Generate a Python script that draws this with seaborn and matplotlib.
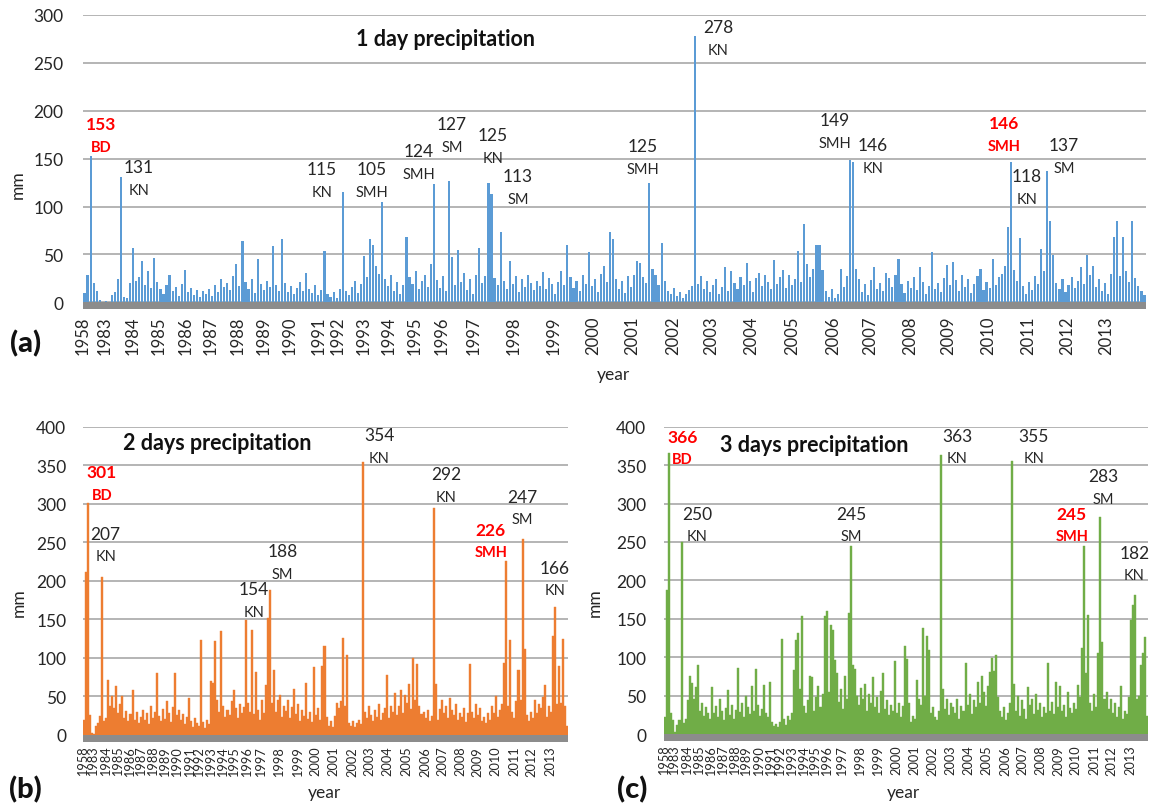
import numpy as np
import pandas as pd
import matplotlib
matplotlib.use("Agg")
import matplotlib.pyplot as plt
import seaborn as sns

# --- values (mm, one bar per entry, left to right) ---
rain_1d = [
    10, 28, 153, 20, 12, 2, 0, 1, 0, 8, 11, 24, 131, 6, 4, 20, 57, 22, 26, 43, 18, 33, 15, 46, 21,
    14, 9, 18, 29, 12, 16, 7, 19, 34, 11, 15, 8, 13, 6, 12, 9, 14, 7, 18, 11, 24, 16, 20, 13, 27,
    40, 17, 64, 21, 14, 24, 10, 45, 19, 13, 22, 16, 59, 18, 12, 66, 20, 11, 17, 9, 15, 21, 12, 31, 14,
    10, 18, 8, 13, 54, 9, 6, 11, 5, 14, 115, 12, 8, 16, 22, 10, 19, 48, 26, 66, 60, 38, 30, 105, 24,
    17, 29, 12, 21, 9, 18, 68, 26, 19, 33, 14, 22, 28, 16, 40, 124, 23, 15, 27, 12, 127, 47, 18, 55, 21,
    31, 13, 24, 9, 29, 57, 20, 27, 125, 113, 25, 18, 73, 22, 14, 43, 19, 27, 11, 24, 16, 29, 20, 13, 22,
    17, 32, 14, 25, 19, 9, 21, 33, 18, 60, 26, 15, 22, 12, 28, 19, 53, 17, 24, 11, 30, 38, 21, 73, 66,
    24, 14, 22, 10, 27, 16, 29, 43, 41, 26, 20, 125, 35, 28, 18, 62, 22, 12, 9, 15, 7, 11, 5, 9, 13,
    17, 278, 19, 27, 14, 22, 11, 18, 24, 9, 16, 37, 12, 33, 20, 14, 26, 18, 41, 22, 11, 25, 31, 17, 28,
    21, 14, 44, 19, 26, 34, 15, 29, 18, 24, 54, 21, 82, 40, 26, 35, 60, 60, 34, 12, 6, 14, 4, 9, 35,
    16, 27, 149, 146, 35, 24, 11, 19, 8, 23, 37, 14, 20, 12, 31, 25, 16, 28, 45, 19, 10, 22, 15, 26, 13,
    37, 21, 9, 17, 52, 14, 20, 11, 25, 39, 18, 42, 23, 12, 29, 16, 24, 10, 19, 27, 35, 13, 21, 15, 45,
    18, 26, 30, 38, 79, 146, 34, 22, 67, 17, 9, 21, 13, 27, 19, 56, 33, 137, 85, 49, 20, 14, 24, 11, 18,
    26, 15, 22, 37, 19, 49, 28, 38, 16, 24, 12, 20, 9, 30, 68, 85, 27, 68, 33, 21, 85, 25, 17, 12, 8,
]

rain_2d = [
    20, 212, 301, 26, 3, 1, 12, 15, 25, 205, 18, 22, 72, 38, 50, 35, 64, 28, 40, 50, 22, 31, 18, 27,
    58, 20, 30, 16, 24, 33, 19, 28, 14, 38, 22, 30, 80, 25, 18, 34, 21, 44, 29, 17, 36, 80, 26, 32,
    19, 27, 14, 24, 48, 18, 10, 22, 15, 12, 123, 17, 9, 20, 14, 70, 67, 122, 45, 30, 135, 38, 24, 33,
    26, 44, 58, 35, 22, 40, 28, 36, 149, 41, 30, 136, 27, 82, 33, 20, 45, 29, 65, 152, 188, 42, 84, 30,
    45, 52, 24, 38, 31, 45, 22, 36, 60, 27, 40, 18, 33, 25, 68, 21, 30, 17, 88, 26, 35, 20, 90, 115,
    24, 12, 18, 10, 25, 41, 35, 44, 126, 38, 104, 16, 12, 18, 10, 15, 20, 14, 354, 30, 22, 37, 26, 18,
    32, 24, 40, 19, 28, 35, 78, 22, 37, 30, 54, 26, 38, 58, 29, 52, 41, 66, 34, 100, 45, 92, 38, 27,
    30, 22, 32, 18, 25, 295, 66, 20, 34, 45, 28, 38, 22, 48, 33, 26, 40, 19, 29, 24, 35, 17, 28, 92,
    30, 22, 40, 26, 35, 18, 24, 15, 28, 20, 37, 29, 50, 24, 33, 40, 93, 226, 38, 123, 30, 22, 44, 84,
    45, 254, 112, 26, 18, 30, 22, 46, 28, 40, 35, 49, 65, 24, 38, 30, 128, 166, 40, 90, 42, 125, 38, 12,
]

rain_3d = [
    22, 188, 366, 28, 18, 2, 12, 18, 250, 14, 20, 44, 76, 67, 45, 61, 90, 30, 41, 24, 35, 28, 19, 61,
    27, 36, 22, 46, 30, 18, 34, 57, 25, 38, 20, 31, 86, 29, 40, 22, 50, 35, 26, 63, 30, 85, 38, 24,
    33, 64, 28, 22, 68, 15, 11, 13, 9, 16, 124, 20, 12, 24, 18, 28, 83, 122, 131, 59, 153, 36, 27, 44,
    76, 74, 30, 48, 63, 35, 52, 154, 160, 55, 142, 135, 96, 79, 42, 58, 33, 76, 45, 157, 245, 90, 85, 50,
    38, 60, 45, 65, 30, 52, 40, 74, 35, 48, 28, 56, 80, 33, 44, 25, 38, 30, 95, 27, 40, 22, 36, 115,
    98, 41, 15, 24, 20, 70, 45, 38, 138, 50, 127, 109, 28, 35, 22, 18, 30, 363, 59, 32, 46, 25, 40, 35,
    28, 46, 20, 37, 30, 93, 38, 52, 26, 44, 35, 68, 40, 76, 55, 36, 62, 81, 99, 82, 103, 48, 30, 22,
    35, 18, 28, 40, 355, 65, 30, 50, 24, 44, 33, 20, 61, 38, 45, 26, 52, 31, 40, 22, 35, 28, 92, 30,
    42, 26, 68, 35, 63, 30, 38, 22, 55, 34, 28, 40, 33, 64, 48, 112, 245, 79, 155, 40, 30, 52, 35, 105,
    283, 120, 45, 55, 32, 46, 28, 40, 22, 35, 63, 20, 30, 26, 48, 148, 168, 181, 46, 50, 90, 106, 126, 24,
]

# year labels on the category axis and where they sit (fraction of axis width)
year_labels = ['1958'] + [str(y) for y in range(1983, 2014)]
year_frac = [0.0, 0.0207, 0.0468, 0.0715, 0.0962, 0.1204, 0.1452, 0.1696, 0.1947, 0.2214,
             0.2392, 0.2637, 0.2879, 0.3117, 0.3374, 0.3678, 0.4048, 0.4424, 0.4801, 0.5171,
             0.5548, 0.5914, 0.6284, 0.6667, 0.7053, 0.7404, 0.7780, 0.8140, 0.8511, 0.8887,
             0.9254, 0.9630]

# peak labels: value, station, highlighted (red)
peaks_1d = ['153', '131', '115', '105', '124', '127', '125', '113', '125', '278', '149', '146', '146', '118', '137']
stations_1d = ['BD', 'KN', 'KN', 'SMH', 'SMH', 'SM', 'KN', 'SM', 'SMH', 'KN', 'SMH', 'KN', 'SMH', 'KN', 'SM']
red_1d = [True] + [False] * 11 + [True, False, False]

peaks_2d = ['301', '207', '154', '188', '354', '292', '247', '226', '166']
stations_2d = ['BD', 'KN', 'KN', 'SM', 'KN', 'KN', 'SM', 'SMH', 'KN']
red_2d = [True, False, False, False, False, False, False, True, False]

peaks_3d = ['366', '250', '245', '363', '355', '283', '245', '182']
stations_3d = ['BD', 'KN', 'SM', 'KN', 'KN', 'SM', 'SMH', 'KN']
red_3d = [True, False, False, False, False, False, True, False]

# label anchor positions (bar index, mm)
pos_1d = [(5.4, 186), (17.9, 141), (78.2, 139), (94.7, 139), (110.1, 158), (121.0, 186),
          (134.5, 175), (142.7, 132), (183.9, 163), (208.6, 287), (247.1, 190), (259.6, 164),
          (302.8, 187), (310.3, 132), (322.5, 164)]
pos_2d = [(8.9, 341), (10.7, 261), (84.0, 189), (98.1, 238.5), (146.0, 388.7), (179.4, 338),
          (216.9, 308.7), (201.3, 266), (232.9, 216.5)]
pos_3d = [(8.5, 386.6), (15.9, 287), (92.1, 287), (144.8, 388), (182.8, 388), (217.3, 335.5),
          (201.7, 287), (232.9, 236)]

sns.set_style("white")
plt.rcParams['font.family'] = ['Lato', 'DejaVu Sans']
TXT = '#262626'


def draw_panel(ax, vals, color, bar_w, ymax, band, tick_fs, ypad, xpad,
               title, title_xy, peaks, stations, reds, pos, gap):
    n = len(vals)
    df = pd.DataFrame({'day': np.arange(n), 'mm': vals})
    edge = 0.3 if bar_w >= 1 else 0
    sns.barplot(data=df, x='day', y='mm', color=color, saturation=1, width=bar_w,
                linewidth=edge, edgecolor=color, errorbar=None, ax=ax)
    ax.axhspan(-band, 0, color='#8c8c8c', lw=0, zorder=3)
    ax.set_xlim(-0.5, n - 0.5)
    ax.set_ylim(-band, ymax)
    ax.set_yticks(np.arange(0, ymax + 1, 50))
    ax.yaxis.grid(True, color='#a8a8a8', lw=1.2)
    ax.xaxis.grid(False)
    ax.set_axisbelow(True)
    ax.set_xticks([f * n - 0.5 for f in year_frac])
    ax.set_xticklabels(year_labels, rotation=90)
    ax.tick_params(axis='x', labelsize=tick_fs, length=0, pad=xpad, colors=TXT)
    ax.tick_params(axis='y', labelsize=12.5, length=0, pad=ypad, colors=TXT)
    ax.set_xlabel('')
    ax.set_ylabel('')
    for s in ax.spines.values():
        s.set_visible(False)
    ax.text(title_xy[0], title_xy[1], title, ha='center', va='center',
            fontsize=15.5, fontweight='bold', color='#111111')
    for (x, y), p, st, r in zip(pos, peaks, stations, reds):
        c = '#ff0000' if r else TXT
        w = 'bold' if r else 'normal'
        ax.text(x, y, p, ha='center', va='center', fontsize=12.5, color=c, fontweight=w)
        ax.text(x, y - gap, st, ha='center', va='center', fontsize=10.5, color=c, fontweight=w)


fig = plt.figure(figsize=(11.49, 8.04), dpi=100)
ax_a = fig.add_axes([0.07224, 0.61443, 0.92515, 0.36567])
ax_b = fig.add_axes([0.07224, 0.07624, 0.42211, 0.39179])
ax_c = fig.add_axes([0.57824, 0.07749, 0.42072, 0.39055])

draw_panel(ax_a, rain_1d, '#5b9bd5', 0.7, 300, 7, 12, 14, 5,
           '1 day precipitation', (118.7, 275), peaks_1d, stations_1d, red_1d, pos_1d, 24)
draw_panel(ax_b, rain_2d, '#ed7d31', 1.0, 400, 8.7, 9.2, 12, 3,
           '2 days precipitation', (65.8, 380), peaks_2d, stations_2d, red_2d, pos_2d, 29)
draw_panel(ax_c, rain_3d, '#70ad47', 1.0, 400, 8.7, 9.2, 13, 3,
           '3 days precipitation', (74, 376.6), peaks_3d, stations_3d, red_3d, pos_3d, 29)

# panel letters and axis names
for xy, letter in [((26, 344), '(a)'), ((25, 790), '(b)'), ((632, 790), '(c)')]:
    fig.text(xy[0] / 1149, 1 - xy[1] / 804, letter, fontsize=21, fontweight=900,
             ha='center', va='center', color='#111111')
for xy in [(613, 375), (324, 793), (903, 793)]:
    fig.text(xy[0] / 1149, 1 - xy[1] / 804, 'year', fontsize=12.5, color=TXT, ha='center', va='center')
for xy in [(17.5, 185), (19, 603), (595, 603)]:
    fig.text(xy[0] / 1149, 1 - xy[1] / 804, 'mm', fontsize=12.5, color=TXT,
             rotation=90, ha='center', va='center')

fig.savefig('out.png', dpi=100)
